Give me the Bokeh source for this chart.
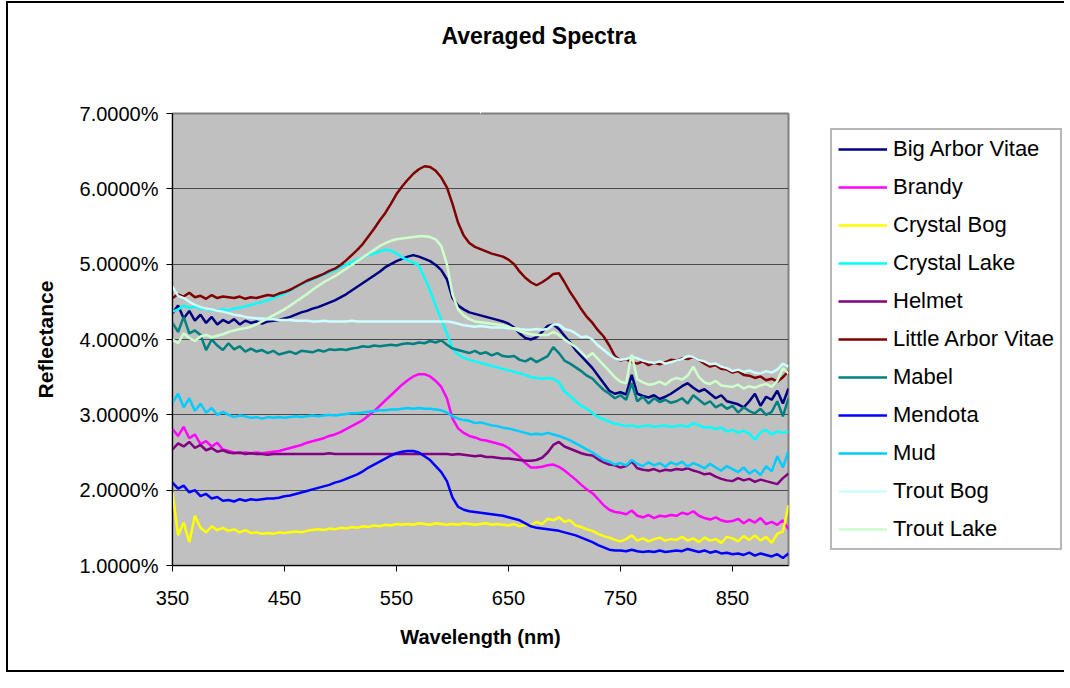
from bokeh.plotting import figure
from bokeh.layouts import row
from bokeh.models import Range1d, FixedTicker, PrintfTickFormatter, Legend, LegendItem, LinearAxis
from bokeh.embed import file_html
from bokeh.resources import INLINE

wavelength = list(range(350, 905, 5))

series_names = ["Big Arbor Vitae", "Brandy", "Crystal Bog", "Crystal Lake", "Helmet",
                "Little Arbor Vitae", "Mabel", "Mendota", "Mud", "Trout Bog", "Trout Lake"]
series_colors = ["#000080", "#FF00FF", "#FFFF00", "#00FFFF", "#800080",
                 "#800000", "#008080", "#0000FF", "#00CCFF", "#CCFFFF", "#CCFFCC"]

x_ticks = [350, 450, 550, 650, 750, 850]
y_ticks = [1, 2, 3, 4, 5, 6, 7]

big_arbor_vitae = [
    4.35, 4.45, 4.28, 4.38, 4.25, 4.33, 4.22, 4.30, 4.20, 4.26,
    4.22, 4.27, 4.20, 4.25, 4.22, 4.24, 4.21, 4.24, 4.25, 4.26,
    4.28, 4.30, 4.33, 4.36, 4.38, 4.41, 4.43, 4.46, 4.49, 4.52,
    4.56, 4.60, 4.65, 4.70, 4.75, 4.80, 4.85, 4.90, 4.96, 5.00,
    5.04, 5.07, 5.10, 5.12, 5.10, 5.07, 5.04, 4.99, 4.92, 4.80,
    4.55, 4.45, 4.40, 4.36, 4.34, 4.32, 4.30, 4.28, 4.26, 4.24,
    4.21, 4.16, 4.08, 4.02, 4.00, 4.03, 4.10, 4.18, 4.20, 4.14,
    4.05, 3.96, 3.86, 3.78, 3.70, 3.62, 3.52, 3.42, 3.32, 3.28,
    3.30, 3.27, 3.53, 3.28, 3.25, 3.23, 3.26, 3.21, 3.24, 3.28,
    3.33, 3.38, 3.42, 3.36, 3.31, 3.34, 3.28, 3.22, 3.26, 3.18,
    3.16, 3.14, 3.10, 3.18, 3.28, 3.12, 3.24, 3.20, 3.32, 3.15,
    3.35]
brandy = [
    2.81, 2.72, 2.84, 2.69, 2.74, 2.61, 2.65, 2.58, 2.63, 2.54,
    2.52, 2.50, 2.49, 2.50, 2.49, 2.50, 2.49, 2.50, 2.51, 2.52,
    2.54, 2.56, 2.58, 2.60, 2.63, 2.65, 2.67, 2.69, 2.72, 2.74,
    2.77, 2.81, 2.85, 2.89, 2.93, 2.99, 3.05, 3.12, 3.19, 3.26,
    3.33, 3.40, 3.46, 3.51, 3.54, 3.54, 3.51, 3.45, 3.37, 3.22,
    2.95, 2.82, 2.76, 2.72, 2.70, 2.67, 2.66, 2.64, 2.62, 2.60,
    2.56, 2.50, 2.44, 2.36, 2.30, 2.30, 2.31, 2.33, 2.34, 2.31,
    2.26, 2.20, 2.14, 2.07, 2.01, 1.96, 1.88, 1.80, 1.74, 1.71,
    1.70, 1.68, 1.73, 1.66, 1.64, 1.67, 1.63, 1.66, 1.65, 1.67,
    1.66, 1.70, 1.68, 1.72, 1.66, 1.63, 1.61, 1.64, 1.60, 1.58,
    1.59, 1.62, 1.56, 1.61, 1.57, 1.63, 1.55, 1.58, 1.54, 1.60,
    1.48]
crystal_bog = [
    1.97, 1.40, 1.57, 1.31, 1.66, 1.50, 1.44, 1.52, 1.47, 1.50,
    1.46, 1.48, 1.44, 1.47, 1.43, 1.44, 1.42, 1.43, 1.42, 1.44,
    1.43, 1.44, 1.45, 1.44, 1.46, 1.47, 1.48, 1.47, 1.49, 1.48,
    1.50, 1.49, 1.51, 1.50, 1.52, 1.51, 1.53, 1.52, 1.54, 1.53,
    1.55, 1.54, 1.55, 1.54, 1.56, 1.55, 1.54, 1.56, 1.55, 1.54,
    1.55, 1.54, 1.56, 1.55, 1.54, 1.55, 1.56, 1.54, 1.55, 1.54,
    1.53, 1.55, 1.52, 1.54, 1.53, 1.58, 1.55, 1.62, 1.60, 1.64,
    1.58, 1.60, 1.53, 1.51, 1.48, 1.46, 1.42, 1.39, 1.37, 1.34,
    1.32, 1.35, 1.40, 1.33, 1.36, 1.32, 1.35, 1.37, 1.33, 1.35,
    1.34, 1.38, 1.33, 1.36, 1.31, 1.37, 1.33, 1.35, 1.30, 1.38,
    1.36, 1.32, 1.39, 1.34, 1.40, 1.33, 1.38, 1.30, 1.42, 1.45,
    1.80]
crystal_lake = [
    4.37, 4.40, 4.45, 4.42, 4.44, 4.41, 4.40, 4.39, 4.38, 4.40,
    4.39, 4.41, 4.42, 4.44, 4.46, 4.48, 4.50, 4.52, 4.55, 4.58,
    4.61, 4.65, 4.69, 4.73, 4.77, 4.80, 4.83, 4.86, 4.89, 4.92,
    4.96, 4.99, 5.03, 5.06, 5.09, 5.12, 5.14, 5.17, 5.19, 5.18,
    5.14, 5.09, 5.05, 5.02, 4.98, 4.82, 4.65, 4.45, 4.26, 4.08,
    3.88, 3.80, 3.76, 3.73, 3.71, 3.69, 3.67, 3.65, 3.63, 3.61,
    3.59, 3.57, 3.55, 3.53, 3.50, 3.49, 3.48, 3.49, 3.48, 3.43,
    3.31, 3.25, 3.18, 3.12, 3.08, 3.02, 2.97, 2.94, 2.91, 2.88,
    2.87, 2.85, 2.86, 2.84, 2.85, 2.86, 2.84, 2.85, 2.86, 2.84,
    2.85, 2.86, 2.84, 2.89, 2.86, 2.83, 2.84, 2.81, 2.83, 2.78,
    2.80, 2.76, 2.79, 2.75, 2.67, 2.77, 2.80, 2.74, 2.78, 2.76,
    2.78]
helmet = [
    2.54, 2.62, 2.58, 2.64, 2.56, 2.60, 2.53, 2.56, 2.51, 2.53,
    2.50, 2.49, 2.50, 2.48, 2.49, 2.48, 2.48, 2.47, 2.48, 2.48,
    2.48, 2.48, 2.48, 2.48, 2.48, 2.48, 2.48, 2.48, 2.49, 2.48,
    2.48, 2.48, 2.48, 2.48, 2.48, 2.48, 2.48, 2.48, 2.48, 2.48,
    2.48, 2.48, 2.48, 2.48, 2.48, 2.48, 2.48, 2.48, 2.48, 2.48,
    2.47, 2.48, 2.47, 2.46, 2.45, 2.46, 2.44, 2.44, 2.43, 2.42,
    2.42, 2.41, 2.40, 2.39, 2.39, 2.40, 2.43, 2.50, 2.60, 2.64,
    2.58, 2.55, 2.52, 2.49, 2.47, 2.46, 2.41, 2.37, 2.34, 2.33,
    2.30, 2.32, 2.38, 2.29, 2.27, 2.26, 2.28, 2.25, 2.27, 2.26,
    2.28, 2.27, 2.29, 2.26, 2.24, 2.21, 2.22, 2.18, 2.15, 2.13,
    2.12, 2.16, 2.13, 2.15, 2.11, 2.14, 2.12, 2.10, 2.08, 2.16,
    2.22]
little_arbor_vitae = [
    4.55, 4.60, 4.57, 4.62, 4.56, 4.58, 4.54, 4.59, 4.55, 4.57,
    4.56, 4.55, 4.57, 4.54, 4.56, 4.55, 4.57, 4.59, 4.58, 4.61,
    4.63, 4.66, 4.70, 4.74, 4.78, 4.81, 4.84, 4.87, 4.91, 4.94,
    4.99, 5.05, 5.12, 5.19, 5.27, 5.37, 5.47, 5.58, 5.68, 5.80,
    5.93, 6.03, 6.12, 6.20, 6.26, 6.30, 6.29, 6.24, 6.15, 6.02,
    5.80, 5.55, 5.38, 5.28, 5.23, 5.20, 5.17, 5.14, 5.12, 5.10,
    5.06, 5.00, 4.90, 4.82, 4.76, 4.72, 4.76, 4.81, 4.87, 4.88,
    4.76, 4.63, 4.52, 4.40, 4.30, 4.22, 4.12, 4.04, 3.92, 3.78,
    3.72, 3.74, 3.70, 3.68, 3.71, 3.66, 3.69, 3.67, 3.70, 3.73,
    3.72, 3.75, 3.74, 3.77, 3.73, 3.68, 3.64, 3.66, 3.61, 3.60,
    3.56, 3.58, 3.53, 3.52, 3.49, 3.51, 3.46, 3.48, 3.44, 3.50,
    3.58]
mabel = [
    4.22, 4.10, 4.30, 4.08, 4.12, 4.06, 3.86, 4.00, 3.92, 3.86,
    3.95, 3.87, 3.91, 3.84, 3.88, 3.84, 3.86, 3.82, 3.85, 3.80,
    3.82, 3.84, 3.81, 3.85, 3.84, 3.83, 3.86, 3.84, 3.87, 3.86,
    3.87, 3.86, 3.88, 3.89, 3.91, 3.90, 3.92, 3.91, 3.92, 3.93,
    3.92, 3.94, 3.95, 3.94, 3.96, 3.95, 3.98, 3.96, 3.99, 3.93,
    3.88, 3.86, 3.84, 3.82, 3.85, 3.81, 3.83, 3.79, 3.82, 3.78,
    3.77, 3.78, 3.73, 3.71, 3.75, 3.70, 3.74, 3.78, 3.90, 3.82,
    3.72, 3.68, 3.63, 3.58, 3.52, 3.48, 3.40, 3.33, 3.28, 3.22,
    3.26, 3.20, 3.42, 3.18, 3.24, 3.15, 3.22, 3.17, 3.20, 3.16,
    3.18, 3.22, 3.15, 3.26, 3.20, 3.14, 3.18, 3.10, 3.14, 3.08,
    3.12, 3.03, 3.10, 3.05, 3.02, 3.08, 3.00, 3.04, 3.18, 2.98,
    3.22]
mendota = [
    2.10, 2.02, 2.06, 1.97, 2.00, 1.92, 1.95, 1.89, 1.91, 1.86,
    1.87, 1.85, 1.88, 1.86, 1.88, 1.87, 1.88, 1.89, 1.89, 1.90,
    1.92, 1.93, 1.95, 1.97, 1.99, 2.01, 2.03, 2.05, 2.07, 2.10,
    2.12, 2.15, 2.18, 2.21, 2.25, 2.30, 2.34, 2.38, 2.42, 2.46,
    2.49, 2.51, 2.52, 2.52, 2.50, 2.45, 2.40, 2.32, 2.24, 2.12,
    1.90, 1.78, 1.74, 1.72, 1.71, 1.70, 1.69, 1.68, 1.67, 1.66,
    1.64, 1.62, 1.60, 1.56, 1.52, 1.50, 1.49, 1.48, 1.47, 1.46,
    1.44, 1.42, 1.40, 1.37, 1.34, 1.31, 1.27, 1.24, 1.21, 1.20,
    1.20, 1.19, 1.21, 1.19, 1.18, 1.19, 1.18, 1.20, 1.18, 1.19,
    1.20, 1.19, 1.22, 1.20, 1.18, 1.20, 1.17, 1.19, 1.16, 1.17,
    1.15, 1.16, 1.14, 1.17, 1.13, 1.16, 1.14, 1.12, 1.15, 1.10,
    1.16]
mud = [
    3.16, 3.28, 3.10, 3.22, 3.05, 3.15, 3.03, 3.09, 3.00, 3.04,
    3.00, 2.97, 2.99, 2.98, 2.96, 2.97, 2.95, 2.97, 2.96, 2.97,
    2.96, 2.97, 2.98, 2.97, 2.98, 2.99, 2.98, 2.99, 3.00, 2.99,
    3.00, 3.01, 3.02, 3.02, 3.03, 3.04, 3.05, 3.06, 3.06, 3.07,
    3.07, 3.08, 3.09, 3.08, 3.09, 3.08, 3.08, 3.07, 3.06, 3.03,
    2.98, 2.95, 2.93, 2.92, 2.89, 2.90, 2.88, 2.86, 2.85, 2.83,
    2.82, 2.80, 2.78, 2.76, 2.74, 2.75, 2.74, 2.76, 2.74, 2.72,
    2.69, 2.66, 2.62, 2.58, 2.54, 2.50, 2.45, 2.40, 2.38, 2.34,
    2.36, 2.33, 2.40, 2.35, 2.32, 2.37, 2.33, 2.36, 2.31, 2.37,
    2.34, 2.38, 2.31, 2.36, 2.33, 2.29, 2.35, 2.30, 2.26, 2.32,
    2.28, 2.24, 2.30, 2.22, 2.27, 2.20, 2.32, 2.25, 2.45, 2.30,
    2.52]
trout_bog = [
    4.70, 4.58, 4.55, 4.50, 4.46, 4.43, 4.41, 4.40, 4.38, 4.37,
    4.35, 4.33, 4.32, 4.30, 4.29, 4.28, 4.28, 4.27, 4.27, 4.26,
    4.26, 4.26, 4.25, 4.25, 4.25, 4.24, 4.24, 4.25, 4.24, 4.24,
    4.24, 4.24, 4.25, 4.24, 4.24, 4.24, 4.24, 4.24, 4.24, 4.24,
    4.24, 4.24, 4.24, 4.24, 4.24, 4.24, 4.24, 4.24, 4.24, 4.24,
    4.23, 4.21, 4.19, 4.18, 4.17, 4.18, 4.17, 4.16, 4.16, 4.16,
    4.15, 4.15, 4.14, 4.13, 4.13, 4.14, 4.13, 4.14, 4.20, 4.20,
    4.14, 4.12, 4.08, 4.03, 4.04, 4.00, 3.92, 3.86, 3.80, 3.75,
    3.73, 3.74, 3.77, 3.75, 3.72, 3.70, 3.69, 3.71, 3.68, 3.70,
    3.72, 3.74, 3.78, 3.77, 3.73, 3.71, 3.67, 3.68, 3.64, 3.62,
    3.58, 3.60, 3.57, 3.59, 3.56, 3.55, 3.58, 3.56, 3.60, 3.68,
    3.64]
trout_lake = [
    4.00, 3.95, 4.08, 4.02, 3.98, 4.04, 4.06, 4.03, 4.05, 4.07,
    4.10, 4.12, 4.14, 4.15, 4.17, 4.20, 4.24, 4.28, 4.32, 4.36,
    4.40, 4.45, 4.50, 4.55, 4.60, 4.66, 4.71, 4.76, 4.80, 4.84,
    4.89, 4.94, 4.99, 5.04, 5.09, 5.14, 5.19, 5.24, 5.28, 5.31,
    5.33, 5.34, 5.35, 5.36, 5.37, 5.37, 5.36, 5.33, 5.24, 5.00,
    4.60, 4.40, 4.32, 4.27, 4.24, 4.23, 4.22, 4.21, 4.20, 4.19,
    4.17, 4.14, 4.11, 4.09, 4.07, 4.06, 4.06, 4.06, 4.10, 4.06,
    4.00, 3.95, 3.90, 3.83, 3.76, 3.82, 3.74, 3.66, 3.58, 3.50,
    3.44, 3.42, 3.80, 3.47, 3.43, 3.40, 3.41, 3.44, 3.40, 3.46,
    3.49, 3.47, 3.52, 3.64, 3.50, 3.43, 3.41, 3.45, 3.39, 3.38,
    3.37, 3.40, 3.35, 3.38, 3.36, 3.39, 3.41, 3.37, 3.45, 3.62,
    3.55]

series_values = [big_arbor_vitae, brandy, crystal_bog, crystal_lake, helmet,
                 little_arbor_vitae, mabel, mendota, mud, trout_bog, trout_lake]

FONT = "Liberation Sans"
LINE_W = 2.5

# ---------------- main chart ----------------
p = figure(width=829, height=672, output_backend="svg", toolbar_location=None,
           x_range=Range1d(350, 900), y_range=Range1d(1, 7),
           min_border_left=172, min_border_right=41,
           min_border_top=113, min_border_bottom=107,
           background_fill_color="#C0C0C0", border_fill_color=None,
           outline_line_color="#808080", outline_line_width=2,
           title="Averaged Spectra")
p.title.text_font = FONT
p.title.text_font_size = "23px"
p.title.text_font_style = "bold"
p.title.text_color = "#000000"
p.title.align = "left"
p.title.offset = 269
p.title.standoff = 10

xax = p.below[0]
yax = p.left[0]

# blank axis above the plot area (one white tick on white, no label) that lifts the title
top_spacer = LinearAxis(ticker=FixedTicker(ticks=[625]), axis_line_color=None,
                        major_tick_line_color="#FFFFFF", major_tick_line_width=1,
                        minor_tick_line_color=None,
                        major_tick_in=0, major_tick_out=60,
                        major_label_standoff=0,
                        major_label_text_font_size="0px",
                        major_label_text_color=None)
p.add_layout(top_spacer, "above")

for vals, col in zip(series_values, series_colors):
    p.line(wavelength, vals, line_color=col, line_width=LINE_W)

xax.ticker = FixedTicker(ticks=x_ticks)
yax.ticker = FixedTicker(ticks=y_ticks)
yax.formatter = PrintfTickFormatter(format="%.4f%%")
for ax in (xax, yax):
    ax.axis_line_color = "#000000"
    ax.axis_line_width = 1
    ax.major_tick_line_color = "#000000"
    ax.major_tick_in = 0
    ax.major_tick_out = 6
    ax.minor_tick_line_color = None
    ax.major_label_text_font = FONT
    ax.major_label_text_font_size = "20px"
    ax.major_label_text_color = "#000000"
    ax.axis_label_text_font = FONT
    ax.axis_label_text_font_style = "bold"
    ax.axis_label_text_color = "#000000"
xax.axis_label = "Wavelength (nm)"
yax.axis_label = "Reflectance"
xax.axis_label_text_font_size = "20px"
yax.axis_label_text_font_size = "21px"
xax.major_label_standoff = 19
xax.axis_label_standoff = 18
yax.major_label_standoff = 8
yax.axis_label_standoff = 20

p.xgrid.grid_line_color = None
p.ygrid.grid_line_color = "#4a4a4a"
p.ygrid.grid_line_width = 1

# ---------------- legend panel ----------------
# same borders as the chart so that the row keeps the plot area in place;
# the series are drawn here outside the visible range, only their legend shows
lg = figure(width=235, height=672, output_backend="svg", toolbar_location=None,
            x_range=Range1d(0, 1), y_range=Range1d(0, 1),
            x_axis_type=None, y_axis_type=None,
            min_border_left=0, min_border_right=0,
            min_border_top=113, min_border_bottom=107,
            background_fill_color=None, border_fill_color=None,
            outline_line_color=None)
lg.title.visible = False
lg.grid.visible = False

items = []
for name, vals, col in zip(series_names, series_values, series_colors):
    r = lg.line(wavelength, vals, line_color=col, line_width=LINE_W)
    items.append(LegendItem(label=name, renderers=[r]))

legend = Legend(items=items, location=(1, 15),
                label_text_font=FONT, label_text_font_size="22px",
                label_text_color="#000000",
                glyph_width=49, glyph_height=20, label_height=20,
                label_standoff=6, spacing=12, padding=6, margin=0,
                border_line_color="#707070", border_line_width=2,
                background_fill_color="#FFFFFF", background_fill_alpha=1.0)
lg.add_layout(legend, "center")

layout = row(p, lg)
layout.styles = {"box-shadow": ("inset 6px 0 0 0 #ffffff, inset 0 1px 0 0 #ffffff, "
                                "inset 8px 0 0 0 #000000, inset 0 3px 0 0 #000000, "
                                "inset 0 -2px 0 0 #000000")}

open("out.html", "w").write(file_html(layout, INLINE))
